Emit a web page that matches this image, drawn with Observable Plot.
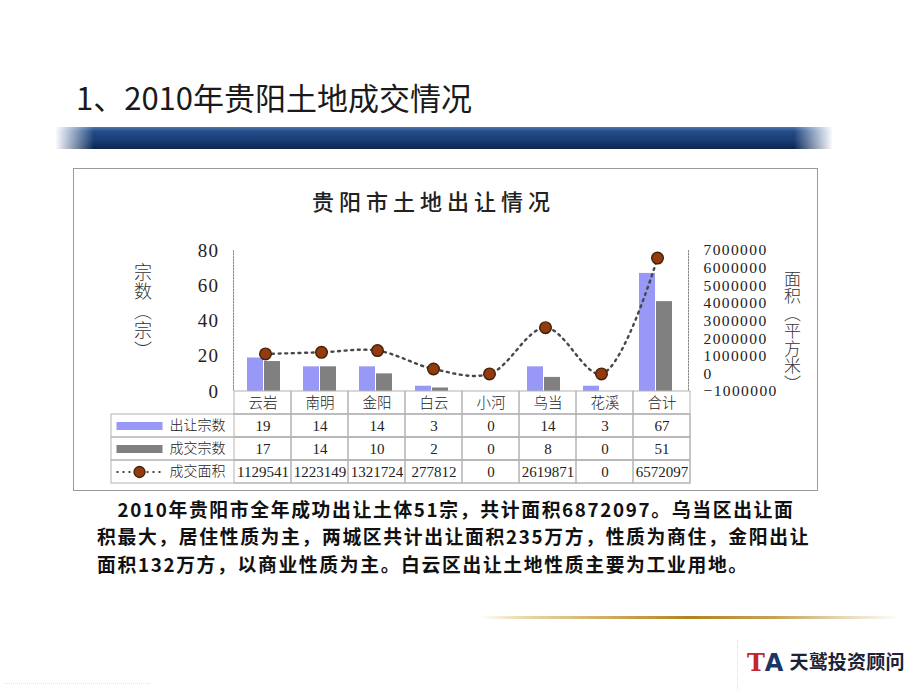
<!DOCTYPE html>
<html><head><meta charset="utf-8">
<script src="https://cdn.jsdelivr.net/npm/d3@7"></script>
<script src="https://cdn.jsdelivr.net/npm/@observablehq/plot@0.6"></script>
<style>
html,body{margin:0;padding:0;background:#fff;}
#page{position:relative;width:920px;height:690px;overflow:hidden;font-family:"Noto Sans CJK SC",sans-serif;color:#1a1a1a;}
.abs{position:absolute;}
#title{left:76px;top:81px;font-size:31px;line-height:1;white-space:nowrap;color:#1a1a1a;}
#band{left:55px;top:127px;width:778px;height:22px;
  background:linear-gradient(to bottom,#4f78ad 0%,#244c88 20%,#1a3d74 60%,#0b2550 100%);
  -webkit-mask-image:linear-gradient(to right,transparent 0%,#000 5%,#000 95%,transparent 100%);
  mask-image:linear-gradient(to right,transparent 0%,#000 5%,#000 95%,transparent 100%);}
#box{left:73px;top:168px;width:743px;height:321px;border:1px solid #9a9a9a;}
#ctitle{left:231px;width:405px;text-align:center;top:189px;font-size:22px;line-height:1;letter-spacing:5px;white-space:nowrap;color:#222;font-weight:500;}
.vlab{writing-mode:vertical-rl;line-height:1;white-space:nowrap;color:#333;font-weight:300;}
#ylab{left:134px;top:263px;font-size:18px;letter-spacing:1.5px;}
#y2lab{left:784px;top:270px;font-size:17px;letter-spacing:0.5px;}
.pl{left:97px;font-size:18.8px;line-height:27.3px;height:27.3px;font-weight:bold;white-space:nowrap;color:#111;letter-spacing:1.67px;}
#gold{left:480px;top:616px;width:420px;height:3px;
  background:linear-gradient(to right,rgba(255,255,255,0) 0%,#e9d9ad 10%,#c9a24f 35%,#b3821f 50%,#c7a256 70%,#e8dcc0 88%,rgba(255,255,255,0) 100%);}
#vdot{left:737px;top:640px;width:0;height:50px;border-left:1px dotted #ddd;}
#logo{left:747px;top:651px;white-space:nowrap;line-height:1;}
#logo .t{font-family:"DejaVu Serif",serif;font-weight:bold;font-size:24px;color:#c4262c;}
#logo .a{font-family:"DejaVu Sans",sans-serif;font-weight:bold;font-size:24px;color:#1c3568;}
#logo .n{font-family:"Noto Sans CJK SC",sans-serif;font-weight:bold;font-size:19px;color:#1d2235;margin-left:6px;letter-spacing:0.2px;position:relative;top:-2px;}
#bl{left:5px;top:683px;width:145px;height:0;border-top:1px dotted #e2e2e2;}
</style>
</head>
<body>
<div id="page">
  <div id="title" class="abs">1、2010年贵阳土地成交情况</div>
  <div id="band" class="abs"></div>
  <div id="box" class="abs"></div>
  <div id="ctitle" class="abs">贵阳市土地出让情况</div>
  <div id="ylab" class="abs vlab">宗数（宗）</div>
  <div id="y2lab" class="abs vlab">面积（平方米）</div>
  <div id="chartA" class="abs" style="left:73px;top:168px;width:744px;height:224px;"></div>
  <div id="chartB" class="abs" style="left:111px;top:391px;width:580px;height:93px;"></div>
  <div class="abs pl" style="top:495px;">&emsp;2010年贵阳市全年成功出让土体51宗，共计面积6872097。乌当区出让面</div>
  <div class="abs pl" style="top:522.3px;">积最大，居住性质为主，两城区共计出让面积235万方，性质为商住，金阳出让</div>
  <div class="abs pl" style="top:549.6px;">面积132万方，以商业性质为主。白云区出让土地性质主要为工业用地。</div>
  <div id="gold" class="abs"></div>
  <div id="vdot" class="abs"></div>
  <div id="logo" class="abs"><span class="t">T</span><span class="a">A</span><span class="n">天鹫投资顾问</span></div>
  <div id="bl" class="abs"></div>
</div>
<script>
// ---- data ----
const categories = ["云岩", "南明", "金阳", "白云", "小河", "乌当", "花溪", "合计"];
const soldCount = [19, 14, 14, 3, 0, 14, 3, 67];      // 出让宗数
const dealCount = [17, 14, 10, 2, 0, 8, 0, 51];       // 成交宗数
const dealArea = [1129541, 1223149, 1321724, 277812, 0, 2619871, 0, 6572097]; // 成交面积
const seriesNames = ["出让宗数", "成交宗数", "成交面积"];
const leftTicks = [0, 20, 40, 60, 80];
const rightTicks = [-1000000, 0, 1000000, 2000000, 3000000, 4000000, 5000000, 6000000, 7000000];

// ---- styles ----
const FONT = "'Liberation Serif','Noto Sans CJK SC',serif";
const BLUE = "#9898f6";
const GRAY = "#808080";
const LINE = "#474747";
const DOT = "#953a0e";
const DOTSTROKE = "#3f2106";
const GRID = "#b3b3b3";

const rows = categories.map((c, i) => ({cat: c, sold: soldCount[i], deal: dealCount[i], area: dealArea[i]}));
const r0 = rightTicks[0], r1 = rightTicks[rightTicks.length - 1];
const l1 = leftTicks[leftTicks.length - 1];
const areaToCount = v => (v - r0) / (r1 - r0) * l1;
const fmt = d => (d < 0 ? "\u2212" + Math.abs(d) : String(d));

const chartA = Plot.plot({
  width: 744, height: 224,
  marginLeft: 160, marginRight: 129, marginTop: 82, marginBottom: 1,
  style: {background: "transparent", overflow: "visible", fontFamily: FONT, color: "#222", letterSpacing: "1.4px"},
  x: {type: "band", domain: categories, padding: 0, axis: null},
  y: {domain: [leftTicks[0], l1]},
  marks: [
    Plot.frame({anchor: "left", stroke: "#8a8a8a", strokeDasharray: "1.5,1.5"}),
    Plot.frame({anchor: "right", stroke: "#8a8a8a", strokeDasharray: "1.5,1.5"}),
    Plot.axisY(leftTicks, {anchor: "left", tickSize: 0, tickPadding: 14, fontSize: 19, label: null}),
    Plot.axisY(rightTicks, {anchor: "right", y: areaToCount, tickFormat: fmt, tickSize: 0, tickPadding: 15, fontSize: 15.5, label: null}),
    Plot.barY(rows, {x: "cat", y: "sold", fill: BLUE, insetLeft: 10, insetRight: 30}),
    Plot.barY(rows, {x: "cat", y: "deal", fill: GRAY, insetLeft: 27, insetRight: 13}),
    Plot.line(rows, {x: "cat", y: d => areaToCount(d.area), curve: "catmull-rom", stroke: LINE, strokeWidth: 2.4, strokeDasharray: "2,4.6"}),
    Plot.dot(rows, {x: "cat", y: d => areaToCount(d.area), r: 5.8, fill: DOT, stroke: DOTSTROKE, strokeWidth: 1.4})
  ]
});
document.getElementById("chartA").append(chartA);

// ---- table ----
const tableRows = ["header", ...seriesNames];
const seriesValues = [soldCount, dealCount, dealArea];
const cellRows = [];
categories.forEach((c, i) => {
  cellRows.push({row: "header", cat: c, text: c});
  seriesNames.forEach((s, k) => cellRows.push({row: s, cat: c, text: String(seriesValues[k][i])}));
});
const rectSym = {draw(ctx) { ctx.rect(-23, -4, 46, 8); }};
const lineSym = {draw(ctx) { ctx.moveTo(-23, 0); ctx.lineTo(23, 0); }};

const chartB = Plot.plot({
  width: 580, height: 93,
  marginLeft: 0, marginRight: 1, marginTop: 0, marginBottom: 1,
  style: {background: "transparent", overflow: "visible", fontFamily: FONT, color: "#222"},
  x: {type: "band", domain: categories, range: [122, 579], padding: 0, axis: null},
  y: {type: "band", domain: tableRows, padding: 0, axis: null},
  marks: [
    Plot.cell(seriesNames, {y: d => d, fill: "none", stroke: GRID}),
    Plot.cell(cellRows, {x: "cat", y: "row", fill: "none", stroke: GRID}),
    Plot.text(cellRows, {x: "cat", y: "row", text: "text", fontSize: d => (d.row === "header" ? 14.5 : 15), fontWeight: 300}),
    Plot.text(seriesNames, {y: d => d, text: d => d, frameAnchor: "left", textAnchor: "end", dx: 114, fontSize: 14, fontWeight: 300}),
    Plot.dot([seriesNames[0]], {y: d => d, frameAnchor: "left", dx: 28, symbol: rectSym, fill: BLUE, stroke: "none"}),
    Plot.dot([seriesNames[1]], {y: d => d, frameAnchor: "left", dx: 28, symbol: rectSym, fill: GRAY, stroke: "none"}),
    Plot.dot([seriesNames[2]], {y: d => d, frameAnchor: "left", dx: 28, symbol: lineSym, fill: "none", stroke: LINE, strokeWidth: 2, strokeDasharray: "2,4"}),
    Plot.dot([seriesNames[2]], {y: d => d, frameAnchor: "left", dx: 28, r: 5.5, fill: DOT, stroke: DOTSTROKE, strokeWidth: 1.3})
  ]
});
document.getElementById("chartB").append(chartB);
</script>
</body></html>
